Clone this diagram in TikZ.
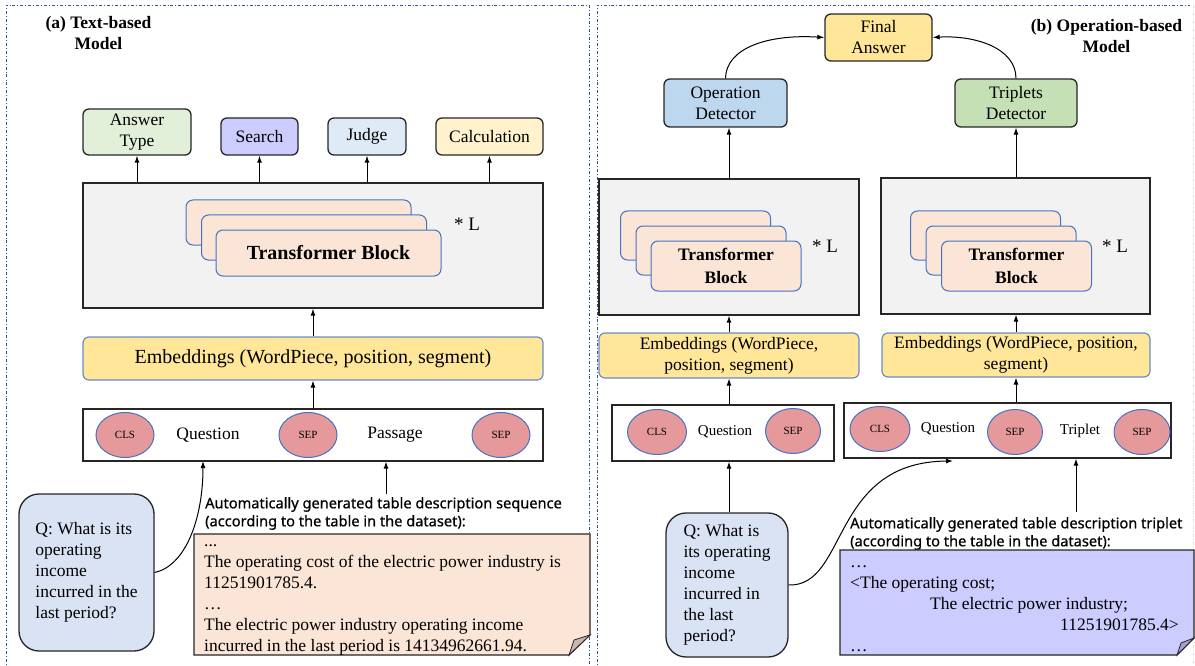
\documentclass[tikz,border=0pt]{standalone}
\usepackage{fontspec}
\setmainfont{Liberation Serif}
\newfontfamily\notosans[FakeBold=0.7]{Noto Sans}
\usetikzlibrary{arrows.meta,shapes.geometric}
\newcommand{\fsz}[2]{\fontsize{#1}{#2}\selectfont}
\definecolor{panelblue}{HTML}{2F5597}
\definecolor{darkline}{HTML}{262626}
\definecolor{grayfill}{HTML}{F2F2F2}
\definecolor{tbfill}{HTML}{FBE5D6}
\definecolor{tbborder}{HTML}{4472C4}
\definecolor{embfill}{HTML}{FFE699}
\definecolor{embborder}{HTML}{6A8CC7}
\definecolor{tokfill}{HTML}{E6999A}
\definecolor{ansfill}{HTML}{E2F0D9}
\definecolor{searchfill}{HTML}{CCCCFF}
\definecolor{judgefill}{HTML}{DEEBF7}
\definecolor{calcfill}{HTML}{FFF2CC}
\definecolor{opfill}{HTML}{BDD7EE}
\definecolor{trifill}{HTML}{C5E0B4}
\definecolor{bubfill}{HTML}{DAE3F3}
\definecolor{noteAfill}{HTML}{FBE5D6}
\definecolor{noteAfold}{HTML}{C8B7AD}
\definecolor{noteBfill}{HTML}{CCCCFF}
\definecolor{noteBfold}{HTML}{A3A3CC}
\begin{document}
\begin{tikzpicture}[x=1pt,y=-1pt,
  panel/.style={draw=panelblue, line width=0.9pt, dash dot},
  obox/.style={draw=darkline, line width=1.3pt, rounded corners=6pt, align=center, inner sep=0pt, font=\fsz{17.5}{21}},
  gbox/.style={draw=darkline, line width=1.3pt, fill=grayfill, inner sep=0pt},
  tblk/.style={draw=tbborder, line width=1pt, fill=tbfill, rounded corners=7pt, inner sep=0pt, align=center},
  emb/.style={draw=embborder, line width=1.2pt, fill=embfill, rounded corners=6pt, align=center, inner sep=0pt},
  inbox/.style={draw=darkline, line width=1.3pt, fill=white, inner sep=0pt},
  tok/.style={ellipse, draw=tbborder, line width=1pt, fill=tokfill, inner sep=0pt, font=\fsz{11}{13}},
  lbl/.style={inner sep=0pt},
  bub/.style={draw=darkline, line width=1.3pt, fill=bubfill, rounded corners=20pt, inner sep=0pt, align=left, font=\fsz{17.5}{21}},
  arr/.style={-{Latex[length=7pt,width=5pt]}, line width=1pt, draw=black},
  sdesc/.style={inner sep=0pt, anchor=north west, align=left, font=\notosans\fsz{14.6}{18}},
  notetext/.style={inner sep=0pt, anchor=north west, align=left, font=\fsz{17.5}{21}},
  ttl/.style={inner sep=0pt, align=center, font=\bfseries\fsz{17.5}{21}},
  starl/.style={inner sep=0pt, font=\fsz{19}{21}},
  notepath/.style={draw=darkline, line width=1.2pt},
  foldpath/.style={draw=darkline, line width=0.8pt}
]
\useasboundingbox (0,0) rectangle (1195,666);
% panels
\draw[panel] (6,670) -- (6,5) -- (589,5) -- (589,670);
\draw[panel] (597,670) -- (597,5) -- (1190,5);
\draw[panel, draw=black!12] (1193,5) -- (1193,670);

% ---------- (a) Text-based model ----------
\node[ttl] (titleA) at (98.5,33) {(a) Text-based\\Model};

\node[obox, fill=ansfill, minimum width=108, minimum height=46] (ansT) at (137,132) {Answer\\Type};
\node[obox, fill=searchfill, minimum width=77, minimum height=37] (search) at (259.5,136.5) {Search};
\node[obox, fill=judgefill, minimum width=78, minimum height=37] (judge) at (367,136.5) {Judge};
\node[obox, fill=calcfill, minimum width=107, minimum height=37] (calc) at (489.5,136.5) {Calculation};

\node[gbox, minimum width=460, minimum height=125] (grayA) at (313,245.5) {};
\node[tblk, minimum width=225, minimum height=45] (tbA3) at (298.5,222.5) {};
\node[tblk, minimum width=225, minimum height=45] (tbA2) at (314,237.5) {};
\node[tblk, minimum width=225, minimum height=46, font=\bfseries\fsz{20}{24}] (tbA1) at (328.5,253) {Transformer Block};
\node[starl] (starA) at (467,224) {* L};

\node[emb, minimum width=460, minimum height=43, font=\fsz{20}{24}] (embA) at (313,358.5) {Embeddings (WordPiece, position, segment)};

\node[inbox, minimum width=460, minimum height=52] (inA) at (313,435) {};
\node[tok, minimum width=58, minimum height=45] (clsA) at (125,435) {CLS};
\node[lbl, font=\fsz{17.5}{21}] (qA) at (208,435) {Question};
\node[tok, minimum width=58, minimum height=45] (sepA1) at (308,435) {SEP};
\node[lbl, font=\fsz{17.5}{21}] (pasA) at (395,435) {Passage};
\node[tok, minimum width=58, minimum height=45] (sepA2) at (501,435) {SEP};

\node[bub, minimum width=135, minimum height=157] (bubA) at (86.5,572.5) {Q: What is its\\operating\\income\\incurred in the\\last period?};

\node[sdesc] (descA) at (205,497) {Automatically generated table description sequence\\(according to the table in the dataset):};

\coordinate (nA1) at (194,534);
\coordinate (nA2) at (590,655);
\path[notepath, fill=noteAfill] (nA1) -- (nA1 -| nA2) -- ([yshift=20pt]nA2) -- ([xshift=-21pt]nA2) -- (nA1 |- nA2) -- cycle;
\path[foldpath, fill=noteAfold] ([yshift=20pt]nA2) -- ([xshift=-21pt]nA2) -- ([xshift=-16pt,yshift=15pt]nA2) -- cycle;
\node[notetext] (noteA) at (204,531.3) {\strut...\\The operating cost of the electric power industry is\\11251901785.4.\\…\\The electric power industry operating income\\incurred in the last period is 14134962661.94.};

\coordinate (pA) at (386,0);
\coordinate (cA) at (203,461);

\foreach \t in {ansT,search,judge,calc}
  \draw[arr] (grayA.north -| \t) -- (\t.south);
\draw[arr] (embA.north) -- (grayA.south);
\draw[arr] (inA.north) -- (embA.south);
\draw[arr] (bubA.east) .. controls (185,566) and (203,520) .. (cA);
\draw[arr] ([yshift=3pt]descA.north -| pA) -- (inA.south -| pA);

% ---------- (b) Operation-based model ----------
\node[ttl] (titleB) at (1106.5,36.5) {(b) Operation-based\\Model};

\node[obox, fill=embfill, minimum width=107, minimum height=47] (finalB) at (878.5,37.5) {Final\\Answer};
\node[obox, fill=opfill, minimum width=123, minimum height=48] (opdet) at (725.5,103) {Operation\\Detector};
\node[obox, fill=trifill, minimum width=122, minimum height=48] (tridet) at (1016,103) {Triplets\\Detector};

\node[gbox, minimum width=260, minimum height=136] (grayB1) at (729,247) {};
\node[tblk, minimum width=150, minimum height=49] (tbB13) at (695.5,235.5) {};
\node[tblk, minimum width=150, minimum height=49] (tbB12) at (711,250.5) {};
\node[tblk, minimum width=150, minimum height=50, font=\bfseries\fsz{17.5}{23}] (tbB11) at (726,266) {Transformer\\Block};
\node[starl] (starB1) at (825,246) {* L};

\node[gbox, minimum width=269, minimum height=136] (grayB2) at (1015.5,246) {};
\node[tblk, minimum width=150, minimum height=49] (tbB23) at (985.5,235.5) {};
\node[tblk, minimum width=150, minimum height=49] (tbB22) at (1001,250.5) {};
\node[tblk, minimum width=150, minimum height=50, font=\bfseries\fsz{17.5}{23}] (tbB21) at (1016.5,266) {Transformer\\Block};
\node[starl] (starB2) at (1115,246) {* L};

\node[emb, minimum width=260, minimum height=45, font=\fsz{17.5}{21}] (embB1) at (729,355.5) {Embeddings (WordPiece,\\position, segment)};
\node[emb, minimum width=268, minimum height=44, font=\fsz{17.5}{21}] (embB2) at (1016,355) {Embeddings (WordPiece, position,\\segment)};

\node[inbox, minimum width=222, minimum height=56] (inB1) at (723,433) {};
\node[tok, minimum width=59, minimum height=45] (clsB1) at (657,432) {CLS};
\node[lbl, font=\fsz{15}{18}] (qB1) at (725,432) {Question};
\node[tok, minimum width=55, minimum height=45] (sepB1) at (793,431) {SEP};

\node[inbox, minimum width=327, minimum height=55] (inB2) at (1007.5,430.5) {};
\node[tok, minimum width=60, minimum height=45] (clsB2) at (880,429) {CLS};
\node[lbl, font=\fsz{15}{18}] (qB2) at (948,429) {Question};
\node[tok, minimum width=55, minimum height=45] (sepB2a) at (1015,432) {SEP};
\node[lbl, font=\fsz{15}{18}] (triB2) at (1080,431) {Triplet};
\node[tok, minimum width=56, minimum height=45] (sepB2b) at (1142,432) {SEP};

\node[bub, minimum width=122, minimum height=144] (bubB) at (727,585) {Q: What is\\its operating\\income\\incurred in\\the last\\period?};

\node[sdesc] (descB) at (850,517) {Automatically generated table description triplet\\(according to the table in the dataset):};

\coordinate (nB1) at (840,550);
\coordinate (nB2) at (1194,655);
\path[notepath, fill=noteBfill] (nB1) -- (nB1 -| nB2) -- ([yshift=17pt]nB2) -- ([xshift=-17pt]nB2) -- (nB1 |- nB2) -- cycle;
\path[foldpath, fill=noteBfold] ([yshift=17pt]nB2) -- ([xshift=-17pt]nB2) -- ([xshift=-13pt,yshift=12pt]nB2) -- cycle;
\node[notetext] (noteB) at (850,552.3) {\strut…\\<The operating cost;\\\hspace*{80pt}The electric power industry;\\\hspace*{210pt}11251901785.4>\\…};

\coordinate (pB) at (1076,0);
\coordinate (cB) at (953,461);

\draw[arr] (opdet.north) .. controls (726,48) and (768,34) .. (finalB.west);
\draw[arr] (tridet.north) .. controls (1016,48) and (975,35) .. (finalB.east);
\draw[arr] (grayB1.north) -- (grayB1.north |- opdet.south);
\draw[arr] (grayB2.north -| tridet) -- (tridet.south);
\draw[arr] (embB1.north) -- (grayB1.south -| embB1);
\draw[arr] (embB2.north) -- (grayB2.south -| embB2);
\draw[arr] (inB1.north -| embB1) -- (embB1.south);
\draw[arr] (inB2.north -| embB2) -- (embB2.south);
\draw[arr] (bubB.north -| embB1) -- (inB1.south -| embB1);
\draw[arr] (bubB.east) .. controls (848,587) and (830,462) .. (cB);
\draw[arr] ([yshift=5pt]descB.north -| pB) -- (inB2.south -| pB);
\end{tikzpicture}
\end{document}
